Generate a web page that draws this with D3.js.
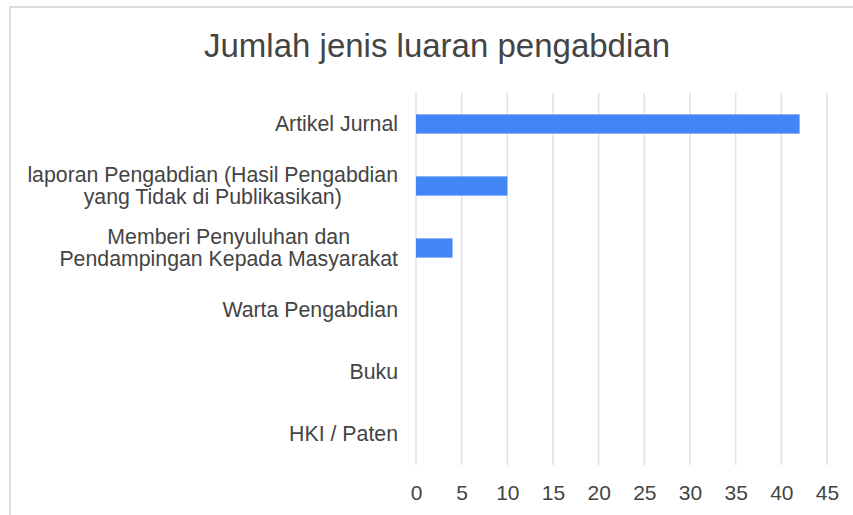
<!DOCTYPE html>
<html>
<head>
<meta charset="utf-8">
<script src="https://cdn.jsdelivr.net/npm/d3@7"></script>
<style>
  html, body { margin: 0; padding: 0; background: #fff; }
  svg { display: block; font-family: Arial, "Liberation Sans", sans-serif; }
</style>
</head>
<body>
<div id="chart"></div>
<script>
var title = "Jumlah jenis luaran pengabdian";

// one entry per category, multi-line labels split into lines
var categories = [
    ["Artikel Jurnal"],
    ["laporan Pengabdian (Hasil Pengabdian", "yang Tidak di Publikasikan)"],
    ["Memberi Penyuluhan dan", "Pendampingan Kepada Masyarakat"],
    ["Warta Pengabdian"],
    ["Buku"],
    ["HKI / Paten"]
];
var values = [42, 10, 4, 0, 0, 0];
var xTicks = [0, 5, 10, 15, 20, 25, 30, 35, 40, 45];

var width = 853;
var height = 515;
var margin = { left: 416, right: 26, top: 93, bottom: 50 };

var svg = d3.select("#chart")
    .append("svg")
    .attr("width", width)
    .attr("height", height);

// chart border (cropped on the right and bottom)
svg.append("rect")
    .attr("x", 10)
    .attr("y", 7)
    .attr("width", 1000)
    .attr("height", 1000)
    .attr("fill", "none")
    .attr("stroke", "#dcdcdc")
    .attr("stroke-width", 2);

svg.append("text")
    .attr("x", 437)
    .attr("y", 57)
    .attr("text-anchor", "middle")
    .attr("font-size", 33)
    .attr("fill", "#444")
    .text(title);

var x = d3.scaleLinear()
    .domain([0, 45])
    .range([margin.left, width - margin.right]);

var keys = categories.map(function(d, i) { return i; });
var y = d3.scaleBand()
    .domain(keys)
    .range([margin.top, height - margin.bottom])
    .paddingInner(0.69)
    .paddingOuter(0.345);

// gridlines
svg.append("g")
    .selectAll("line")
    .data(xTicks)
    .enter()
    .append("line")
    .attr("x1", function(d) { return x(d); })
    .attr("x2", function(d) { return x(d); })
    .attr("y1", margin.top)
    .attr("y2", height - margin.bottom)
    .attr("stroke", "#e0e0e0")
    .attr("stroke-width", 1.5);

// bars
svg.append("g")
    .selectAll("rect")
    .data(values)
    .enter()
    .append("rect")
    .attr("x", x(0))
    .attr("y", function(d, i) { return y(i); })
    .attr("width", function(d) { return x(d) - x(0); })
    .attr("height", y.bandwidth())
    .attr("fill", "#4285f4");

// x axis tick labels
var xAxis = d3.axisBottom(x)
    .tickValues(xTicks)
    .tickSize(0)
    .tickPadding(0);

var axisG = svg.append("g")
    .attr("transform", "translate(0," + (height - margin.bottom) + ")")
    .call(xAxis);
axisG.select(".domain").remove();
axisG.selectAll("text")
    .attr("y", 35)
    .attr("dy", null)
    .attr("font-size", 21)
    .attr("font-family", "Arial, 'Liberation Sans', sans-serif")
    .attr("fill", "#444");

// category labels, block right-aligned, lines centred on each other
var lineH = 22;
var labelRight = 398;
categories.forEach(function(lines, i) {
    var cy = y(i) + y.bandwidth() / 2;
    var g = svg.append("g");
    var texts = lines.map(function(line, j) {
        return g.append("text")
            .attr("y", cy + (j - (lines.length - 1) / 2) * lineH)
            .attr("dy", "0.35em")
            .attr("font-size", 21.3)
            .attr("fill", "#444")
            .attr("text-anchor", "middle")
            .text(line);
    });
    var maxW = d3.max(texts, function(t) { return t.node().getComputedTextLength(); });
    texts.forEach(function(t) {
        t.attr("x", labelRight - maxW / 2);
    });
});
</script>
</body>
</html>
